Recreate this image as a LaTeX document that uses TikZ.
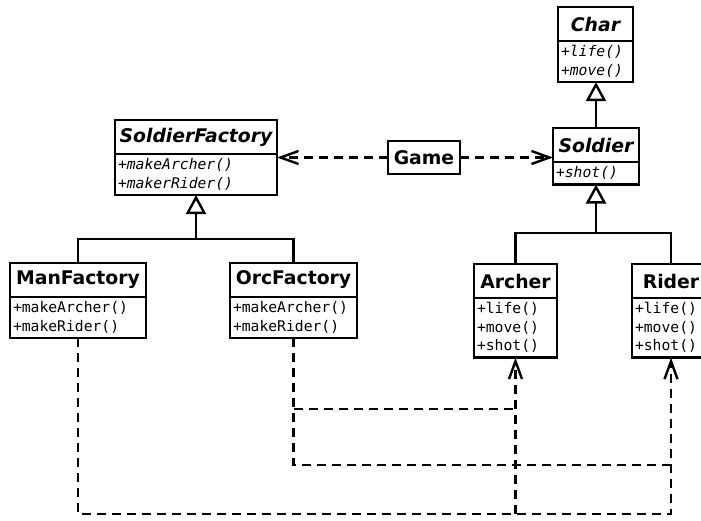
\documentclass[tikz,border=0pt]{standalone}
\usepackage{fontspec}
\setmainfont{DejaVu Sans}
\setmonofont{DejaVu Sans Mono}
\usetikzlibrary{arrows.meta, positioning}

\tikzset{
  cls/.style={draw, line width=2.4pt, inner sep=0pt, outer sep=0pt},
  clshead/.style={cls, font=\fontsize{18.8}{21}\selectfont\bfseries, minimum height=34pt},
  clsbody/.style={cls, font=\fontsize{14.7}{18.5}\selectfont\ttfamily, align=left, inner xsep=3pt, inner ysep=4.7pt},
  rel/.style={line width=2.4pt},
  inherit/.style={rel, -{Triangle[open, length=19pt, width=20pt, fill=white]}},
  dep/.style={rel, dash pattern=on 9pt off 6pt},
  uses/.style={dep, -{Straight Barb[length=18pt, width=13pt]}},
}

% name, top left corner, width, title, methods
\newcommand{\umlclass}[5]{%
  \node[clshead, minimum width=#3pt, anchor=north west] (#1) at #2 {#4};
  \pgfmathsetmacro{\bodywd}{#3-6}
  \node[clsbody, text width=\bodywd pt, below=0pt of #1] (#1-m) {#5};
}

\begin{document}
\begin{tikzpicture}[x=1pt, y=-1pt]
    \useasboundingbox (0,0) rectangle (701,520);

    % --- Classes ---
    \umlclass{char}{(558,7)}{75}{\itshape Char}{\itshape +life()\\+move()}
    \umlclass{soldier}{(553,128)}{86}{\itshape Soldier}{\itshape +shot()}
    \umlclass{factory}{(115,120)}{162}{\itshape SoldierFactory}{\itshape +makeArcher()\\+makerRider()}
    \umlclass{man}{(10,263)}{136}{ManFactory}{+makeArcher()\\+makeRider()}
    \umlclass{orc}{(230,263)}{127}{OrcFactory}{+makeArcher()\\+makeRider()}
    \umlclass{archer}{(474,264)}{83}{Archer}{+life()\\+move()\\+shot()}
    \umlclass{rider}{(632,264)}{78}{Rider}{+life()\\+move()\\+shot()}

    \node[clshead, minimum width=72pt, minimum height=33pt] (game) at (424,157.5) {Game};

    % --- Heights of the rails ---
    \coordinate (ftree) at (0,239);
    \coordinate (stree) at (0,233);
    \coordinate (orcup) at (0,409);
    \coordinate (orcmid) at (0,465);
    \coordinate (manlow) at (0,514);

    % --- Inheritance ---
    \draw[rel] (man.north) -- (man.north |- ftree) -| (orc.north);
    \draw[inherit] (factory-m.south |- ftree) -- (factory-m.south);
    \draw[rel] (archer.north) -- (archer.north |- stree) -| (rider.north);
    \draw[inherit] (soldier-m.south |- stree) -- (soldier-m.south);
    \draw[inherit] (soldier.north) -- (soldier.north |- char-m.south);

    % --- Game uses both abstractions ---
    \draw[uses] (game.west) -- (game.west -| factory-m.east);
    \draw[uses] (game.east) -- (game.east -| soldier-m.west);

    % --- Factories create the soldiers ---
    \draw[uses] (man-m.south) |- (manlow -| rider-m.south) -- (rider-m.south);
    \draw[uses] (manlow -| archer-m.south) -- (archer-m.south);
    \draw[dep] (orc-m.south) |- (orcmid -| rider-m.south);
    \draw[dep] (orc-m.south |- orcup) -- (orcup -| archer-m.south);
\end{tikzpicture}
\end{document}
